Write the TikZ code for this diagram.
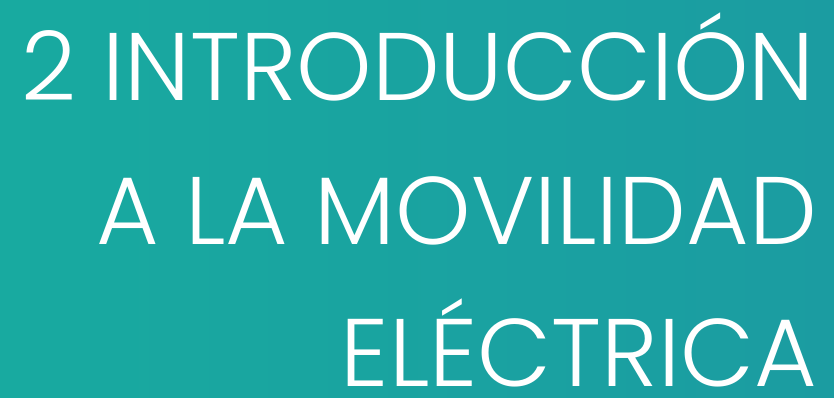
\documentclass[tikz,border=0pt]{standalone}
\usepackage{fontspec}
\setmainfont{Poppins}[UprightFont=* Light]
\definecolor{tealL}{RGB}{24,170,160}
\definecolor{tealR}{RGB}{27,156,161}
\begin{document}
\begin{tikzpicture}[x=1pt,y=1pt,
  titleline/.style={anchor=base east, text=white, inner sep=0pt, font=\fontsize{96}{96}\selectfont}]
\shade[left color=tealL, right color=tealR] (0,0) rectangle (834,398);
\useasboundingbox (0,0) rectangle (834,398);
\node[titleline] (l1) at (815,297) {2 INTRODUCCIÓN};
\node[titleline] (l2) at (817,153) {A LA MOVILIDAD};
\node[titleline] (l3) at (817,11) {ELÉCTRICA};
\end{tikzpicture}
\end{document}
